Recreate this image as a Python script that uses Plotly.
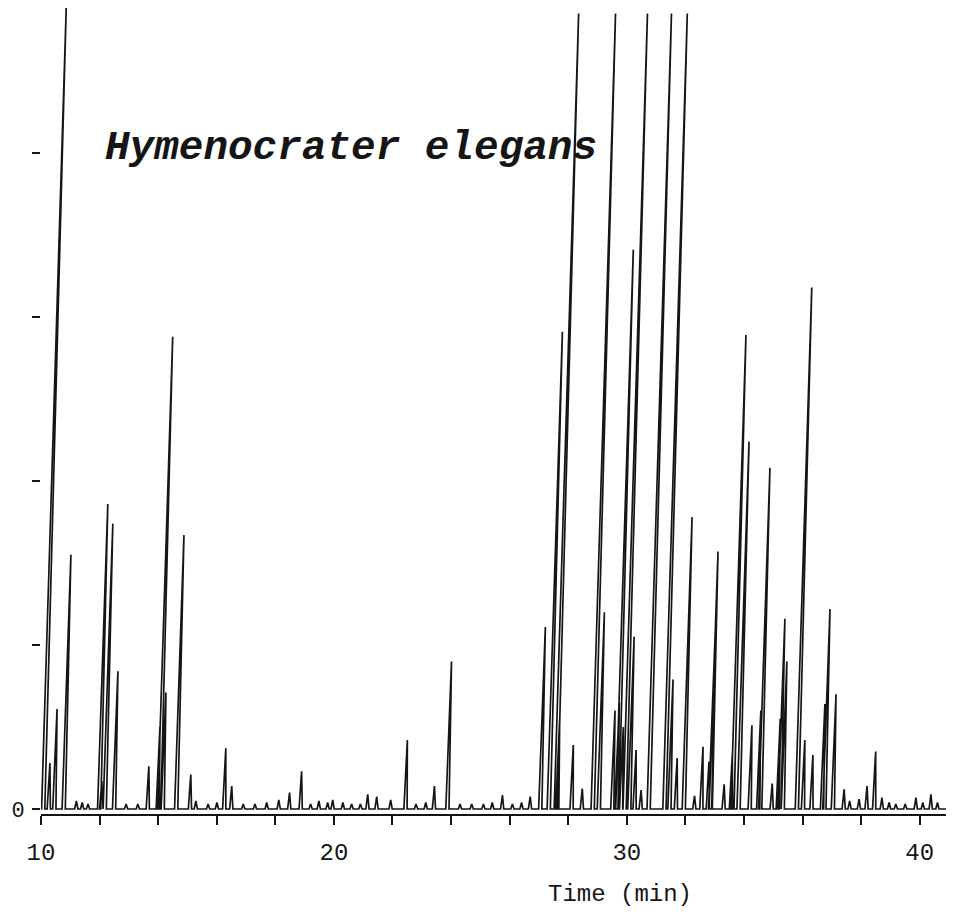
import plotly.graph_objects as go

# Peak foot (retention) times in minutes and heights (in y-tick units above baseline)
peak_time = [
    10.07, 10.26, 10.45, 10.77, 11.20, 11.40, 11.60, 11.98, 12.05, 12.17, 12.49,
    12.90, 13.30, 13.64, 13.98, 14.03, 14.15, 14.61, 15.08, 15.28, 15.70, 16.00,
    16.25, 16.49, 16.90, 17.30, 17.70, 18.11, 18.47, 18.86, 19.20, 19.48, 19.78,
    19.95, 20.30, 20.60, 20.90, 21.14, 21.45, 21.93, 22.44, 22.80, 23.13, 23.41,
    23.87, 24.30, 24.70, 25.10, 25.40, 25.74, 26.09, 26.40, 26.69, 27.04, 27.33,
    27.57, 27.62, 28.11, 28.46, 28.83, 29.04, 29.50, 29.64, 29.67, 29.80, 29.92,
    30.08, 30.26, 30.47, 30.74, 31.28, 31.45, 31.67, 31.94, 32.30, 32.54, 32.76,
    32.84, 32.86, 33.30, 33.55, 33.60, 33.81, 34.19, 34.48, 34.55, 34.94, 35.15,
    35.21, 35.32, 35.80, 36.01, 36.30, 36.66, 36.74, 37.03, 37.40, 37.60, 37.92,
    38.18, 38.44, 38.70, 38.95, 39.18, 39.50, 39.86, 40.10, 40.37, 40.60,
]
peak_height = [
    4.90, 0.28, 0.61, 1.55, 0.05, 0.04, 0.03, 1.86, 0.17, 1.74, 0.84,
    0.03, 0.03, 0.26, 0.50, 2.88, 0.71, 1.67, 0.21, 0.05, 0.03, 0.04,
    0.37, 0.14, 0.03, 0.03, 0.04, 0.055, 0.10, 0.23, 0.03, 0.05, 0.04,
    0.055, 0.04, 0.03, 0.03, 0.09, 0.075, 0.055, 0.42, 0.03, 0.04, 0.14,
    0.90, 0.03, 0.03, 0.03, 0.04, 0.085, 0.03, 0.04, 0.075, 1.11, 2.91,
    4.85, 0.55, 0.39, 0.125, 4.85, 1.20, 0.60, 0.65, 3.41, 0.50, 4.85,
    1.05, 0.36, 0.115, 4.85, 4.85, 0.79, 0.31, 1.78, 0.08, 0.38, 0.29,
    0.98, 1.57, 0.15, 0.33, 2.89, 2.24, 0.51, 0.60, 2.08, 0.155, 0.55,
    1.16, 0.90, 3.18, 0.42, 0.33, 0.64, 1.22, 0.70, 0.12, 0.05, 0.06,
    0.14, 0.35, 0.07, 0.04, 0.03, 0.03, 0.07, 0.04, 0.09, 0.04,
]

x_major_ticks = [10, 20, 30, 40]
x_tick_labels = ["10", "20", "30", "40"]
y_ticks = [0, 1, 2, 3, 4]
y_tick_labels = ["0", "", "", "", ""]
title_text = "Hymenocrater elegans"
x_title = "Time (min)"

# style: recorder pen slant (minutes per unit height) and foot half-widths
SLANT = 0.162
FOOT_L, FOOT_R = 0.05, 0.06

xs, ys = [10.0], [0.0]
for t, h in sorted(zip(peak_time, peak_height)):
    xs += [t - FOOT_L, t + SLANT * h, t + FOOT_R]
    ys += [0.0, h, 0.0]
xs.append(41.0)
ys.append(0.0)

fig = go.Figure()
fig.add_trace(go.Scatter(x=xs, y=ys, mode="lines",
                         line=dict(color="#151515", width=1.7),
                         hoverinfo="skip", showlegend=False))

mono = "Liberation Mono, Courier New, monospace"
fig.update_layout(
    width=938, height=903,
    margin=dict(l=33, r=0, t=0, b=97),
    paper_bgcolor="white", plot_bgcolor="white",
    showlegend=False,
    xaxis=dict(range=[10, 40.898], showgrid=False, zeroline=False, automargin=False,
               showline=True, linecolor="#151515", linewidth=2,
               ticks="outside", ticklen=9, tickwidth=1.5, tickcolor="#151515",
               tickvals=x_major_ticks, ticktext=x_tick_labels,
               tickfont=dict(family=mono, size=24, color="#151515"),
               ticklabelstandoff=6,
               minor=dict(dtick=2, ticks="outside", ticklen=9, tickwidth=1.5,
                          tickcolor="#151515", showgrid=False)),
    yaxis=dict(range=[-0.0305, 4.884], showgrid=False, zeroline=False, automargin=False,
               showline=False, ticks="outside", ticklen=8, tickwidth=1.5,
               tickcolor="#151515", tickvals=y_ticks, ticktext=y_tick_labels,
               tickfont=dict(family=mono, size=22, color="#151515"),
               ticklabelstandoff=3),
    annotations=[
        dict(text="<b><i>" + title_text + "</i></b>", x=0.3425, y=0.826,
             xref="paper", yref="paper", showarrow=False,
             xanchor="center", yanchor="middle",
             font=dict(family=mono, size=41, color="#151515")),
        dict(text=x_title, x=0.640, y=-0.100, xref="paper", yref="paper",
             showarrow=False, xanchor="center", yanchor="middle",
             font=dict(family=mono, size=24, color="#151515")),
    ],
)

fig.write_html("out.html")
